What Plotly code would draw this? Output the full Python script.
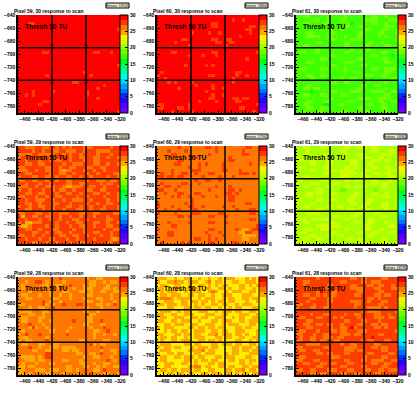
import plotly.graph_objects as go

# ROOT-style discrete palette, 20 levels from 0 to 30 (bottom to top)
palette = ["#7000ff","#5000ff","#3000ff","#0030ff","#0070ff","#00a0ff","#00d0ff","#00ffe0","#00ffa0","#00ff60",
           "#00ff20","#40ff00","#70ff00","#a8ff00","#d0ff00","#ffee00","#ffaa00","#ff7700","#ff3c00","#ff0000"]
z_min, z_max = 0, 30
x_edges = list(range(-470, -319, 5))
y_edges = list(range(-640, -791, -5))
x_ticks = [-460,-440,-420,-400,-380,-360,-340,-320]
y_ticks = [-640,-660,-680,-700,-720,-740,-760,-780]
bar_ticks = [0,5,10,15,20,25,30]
module_x = [-420,-370]
module_y = [-690,-740]
threshold_label = "Thresh 50 TU"

titles = ["Pixel 59, 30 response to scan","Pixel 60, 30 response to scan","Pixel 61, 30 response to scan",
          "Pixel 59, 29 response to scan","Pixel 60, 29 response to scan","Pixel 61, 29 response to scan",
          "Pixel 59, 28 response to scan","Pixel 60, 28 response to scan","Pixel 61, 28 response to scan"]
entries = ["19105","18800","17903","18265","17941","16961","17072","15743","18795"]

# value of each cell code per panel: '.' = dominant, 'o' = second, 'x' = rare
values_59_30 = {'.':29.2,'o':27.8,'x':26.2}
values_60_30 = {'.':29.2,'o':27.8,'x':26.2}
values_61_30 = {'.':17.2,'o':18.8,'x':15.8}
values_59_29 = {'.':26.2,'o':27.8,'x':24.8}
values_60_29 = {'.':26.2,'o':27.8,'x':24.8}
values_61_29 = {'.':20.2,'o':21.8,'x':18.8}
values_59_28 = {'.':26.2,'o':24.8,'x':27.8}
values_60_28 = {'.':24.8,'o':23.2,'x':26.2}
values_61_28 = {'.':27.8,'o':26.2,'x':29.2}

grid_59_30 = [
"..............................",
"..............................",
"...oo.........................",
"..............................",
".............................o",
"..............................",
"..............................",
"..............................",
"..............................",
"..............................",
"..............................",
".......oo.............oo...o...",
"..............................",
"..............................",
"..............................",
".............................o",
"..............................",
"...................o..........",
"........o............o........",
"..............................",
"................oo............",
".........................o....",
".......................o......",
"....o.....o.........o.........",
"..o.o...............o.........",
".......................o......",
".......oo.....................",
"......o.......................",
"..............................",
".............................o",
]
grid_60_30 = [
"..............................",
"......................o..o....",
"................oo............",
"................oo.........oo.",
"..........................oo..",
"..........o....o..o........o..",
"........................o.....",
".......oo.......oo..oo........",
".....o...........oo..oo.......",
".........o..........o.........",
"..............................",
"....oo..........oo...........o",
".........o...o...o............",
"..........................o...",
"..............................",
"........o.....o.o.............",
"..............................",
".o.....................oo.....",
"o..............oo......o..o...",
"..o...................o.......",
"...o.o....o...........o.......",
"...........o....o.............",
"......o.........o..o..........",
"..............o...............",
"................o..o..........",
"...............oo.....oo.oo...",
"............o....o.....oo.....",
"oo.......o...................o",
"oo....oo.o..............oo....",
"....o.....o.................o.",
]
grid_61_30 = [
"..oo.....o....o.......oo..o...",
".....oo..o...oo.....oooo...ooo",
"..oo....oo.....ox.....oo..o...",
"....oo........oo..oo......ooo.",
"..........o..o......oo...oo..o",
"...oo.....oo......oo....oo...o",
"...oooo..oo...o...oo....o.o...",
"..........oo....ooo..........o",
"......oo......oo.....oo..o....",
"..oo..........oo....oo....oo..",
"......o...o.....o...oo.......o",
".oo..oo.......oo..o......oo...",
"..........oo..........oo....x.",
".......oo.........oo.....oo...",
"...oo.........ooo.........oo..",
"..........oo.......oo.........",
".oo....oo.....o.......oo..ooo.",
"..............o..oo.......oo..",
"...oo..oo...........ooo..oo...",
"....oo.......o..oo....x.....oo",
"..........oo..oo..........o...",
"...oo..............oo..oo.....",
"..oo.oo...........oo......o...",
"....x.....oo....ooo...oooo..oo",
"..oo...oo....oo...........oo..",
"..........o.......oooo..oooo..",
"...oo...oo.....oo.......oo..oo",
"..oo....xx..oo.......oo..oo...",
"...oo..oo.........oo.....oo...",
"..o...oo.....oo.....oo....o...",
]
grid_59_29 = [
"oo...oo..oo.o.o.ooo...ooooo.oo",
"oooo.oo.oo..oo...oo.ooo....ooo",
"....oo.....oo.o.oo.oooo.ooo.oo",
".oooo.ooo..oooo.oo..oo..oo.oo.",
"oo.ooo.oo.o..oo.ooo.oo..oooooo",
"oo..oo..ooooo.oo...ooo..oo.oo.",
"..oooooo..oo.oo..ooo..oo..oooo",
"...oo.oo..oo.x..ooo.oo.oo.oooo",
"oo..ooooo.oo..oo.ooo.oo.oooo..",
".ooo..oo..o.oo..oo.oo.oooo.oo.",
"..oo..oo.oo.oo..oooo.oo...o..o",
"oo.ooo.oo.oooo..oo..oooo.o..oo",
"...oo.oo...oo.xx...oo..oo.ooo.",
".oo.ooo.oo.o..oo.ooo..oo..oooo",
"oo..oo..ooo.oo..oo.ooo..oo.oo.",
"..ooo.oo.oo..oooo.oo.oooo.ooo.",
"oo.oo...oo.oo.oo...oo.oooo.oo.",
"oo..oo.ooo..ooo.oooo.oo.oo..oo",
".oo.oo..oo.ooo..oo.oo.ooo.ooo.",
"oo..ooo.oo.oo.ooo..oo.oo..ooo.",
"..ooo..oo.oo...ooo..oo..oooo..",
"oxoo..oo..oo.oo.oo.ooo.ooo.ooo",
"oo.ooo.oo.oo.ooo..oo.ooooo..oo",
".oxx...oooo.oo.oo..ooo..oo.oo.",
".xx.oooo.oo.ooo.oo..oo.ooo..oo",
"oo..oo.ooo..oooo.oo.ooooo.oo..",
"oooo..oo.oo..oo.ooo.oo..ooo.oo",
"..oo.oo.oooo..oo..oo.ooo.oo.oo",
"oo.ooo.oo..ooo.oo.oooo.oooo.x.",
"oooo..oo.oo.ooo.oo..oooooo..oo",
]
grid_60_29 = [
"......o.......oo.o........oo..",
"...o....o........o.......o....",
"....oo.........o.........oo...",
"...........o.........o........",
"......oo.............oo.......",
".....oo.....o.o....o.......o..",
".........o..o......o..........",
"....o.....ooo......oo...o.....",
".o..o..oo..o...oo.......ooo.o.",
"oo.oo.oo.....o....o...o.......",
"...........o..oo..o...........",
".o.....oo...o.................",
"..oo..o..........o...o........",
"oo...o.........o.....oo.o.....",
"..o...oo...oo.......oo.o......",
"....o.o..o...o...o...oo.......",
"..........o..........oo.......",
"o.......o.o...............oo..",
"o...o....oo..o.....o..o.......",
"..o...o...oo...........o...oo.",
"o....o....ooo.....oo.......oo.",
"......oo.o.....oo...o.........",
"...........................oo.",
"...o.....o.....oo...o.........",
"....oo.......................o",
"o..............oo......o.xx.oo",
"...oo.........o...o.....xxoo..",
"...oo..........o...o.....xxxx.",
"...........oo..o.o.......xx...",
".o.....o.o.....oo.....oo......",
]
grid_61_29 = [
"..oo...oo.....oo..ooo.oo......",
"...o.........oo.......oo...oo.",
"..oo....oo....oo..oo.....ooo..",
"......oo....oo.....ooo..oo....",
".oo.oo...oo.....oo....ooo.oo..",
"....oo...oo.....oo...oo......o",
".oo.....oo....oo.o....oo..oo..",
"....oo...ooo.oooo...oo.....oo.",
"........oo...ooooo.oo..oo.oo..",
"..oo.........ooo...ooo.....oo.",
".o.....oo.....oo.oo...oo...o..",
"o...ooo....oo.........oo.oo...",
"..oo.....oo...oo.oo.o....oo...",
"......oo.....xx........x......",
"...oo.oo..oo.....oo...oo..o...",
"...oo...........oo.......ooo..",
".o....oo..oo...oo....oo.......",
"o...oo..........oo..oo...oo...",
"..oo.....oo.oo.....oo....oo...",
"......oo.......oo...oo....o...",
"...oooo..........ooo...oo.....",
"...........oo...oo.......oo...",
".oo..ooooo....oo.....oo.......",
"..oo......oo.....oo..oo...oo..",
"......ooooooo.......oo.....oo.",
"..ooo..ooo....oo....oo..oo....",
".oo.......oo......oo..oo...oo.",
"....oo...oo.oo.......oo.......",
"..oo..oo.......oo.oo.....oo...",
".oo.......oo.......oo....oo...",
]
grid_59_28 = [
"............x.......o..oo.....",
"..o..xx.o....o.......oo..o.oo.",
".o.....oo..oo..x...o.oo...o...",
".o.....o...ox...o..ooo...oo.o.",
"...o.....o...oo...oo.o..oo..oo",
".oo...o..o..o..o....oo.....o..",
"..oo......oo...o...o...oo..o..",
".......x.o..o.......oo..o...o.",
"oo.....xo.o..x...xx....oo.o.x.",
"...o..oo..x.........o...o.....",
"oooo...oo..........oo..o......",
"...oo..o............xoo.......",
".oo...oo............oo........",
".oo...o..o......x...oo..x.....",
"...x...o...........oo...oo....",
"...oxo..o......o.....o...x....",
".o.......oo...o.......oo..x...",
"o.x...x.......x.......o..o..o.",
".oo.....o.............o.......",
"o.oo....x.........oo.....oo...",
".oo...oo..oo.........xo.oo....",
"...x..o..ooo.oooo.......x.....",
"....oo..oo...oo.oo......o..oo.",
"........xx.......oo..oo.x...o.",
".oooo.o.xx.........o..oo...o..",
"..ooo.oo.....oo...o.......x.o.",
".o...o...oo.......oo..o..oo...",
"oo.oo.........oo...oo..o.o..oo",
"oo...ooo.ooo..oo.o....oo.x....",
"oo.o....oo...o.......x...oo..o",
]
grid_60_28 = [
"...oo.oo..oo.oo.oo.o...ooo.o.o",
".oo..x..o...oo.xo..ooo..oo...o",
"o..oo..oo.oo..o.o.o..ooo..o.o.",
"..ooo..oo...oo..oo..o.oo..oo.o",
"o.o...oo.o...oo.x.oo.o...oo..o",
"o..o...oo..o..oo.oo...ooo...oo",
".xxx.o....oo.o...oo.o..oo..o..",
"oo...oo..o..o..o.o..o..ooo.oo.",
"..o...o..oo.o.oo..o..oo.o...oo",
"ooo..ooo..o..o..oo.oo.o..ooo..",
"o...oo.o..oo...oo.o...o..oo..o",
"..oo..oo...ooo...oo..ooo...oo.",
"o..oo...oo..o..oo...oo.o..oo..",
"..oo..o...oo.ooo..o...oo..o...",
"oo..o...oo..oo...oo.o...ooo..o",
".o...oooo..o..o..o..ooo..o..oo",
"oo.o..o..oo...oo..o..oo...ooo.",
"..ooo..o..o..oo..xo...o..o.oo.",
"o..o..oo.oo...ooo..o..oo..oo..",
"o.oo..o...oo..o..o.oooo..oo.o.",
"o...oooo..o..ooo..o...o..oo..o",
".o..o..ooo.o...o..oooo..o...o.",
"o...ooooo....xo..ooooo..o..o..",
".oo..o..ooo..o...ooo.o..ooo...",
"o..oo..o...o..ooo..o...ooo..oo",
"o..ooooo..o.o..o..ooo..o..o..o",
"oo...oo..oo.ooo..o..oooo..o.oo",
"oo..ooooo..xxo..oo..o..oo..o..",
"o..o..o...o..oo..ooo..o..xo..o",
"ooo..o..o..oo..o...o..o.o..o..",
]
grid_61_28 = [
"......o.........oo.oo....oo...",
"..oo.........oo....oo.ooo.....",
"..o......oo.....oo...oo.oo..o.",
"...oo...oo......oooo...oo...oo",
"......ox..oo......oo....oo....",
"..oo..o.o.oo.....oo....oo.oo..",
"....oo...oo..........oo.o.....",
"...o.....oo.....ooo..o...oo...",
"oo...o...o.......oo.....oo....",
"o...oo..oo.......o...oooo.o...",
"...................o.oooo....o",
"....o...oo....o..oo....oo..o..",
".oo...oo...o.o....o....ooo.oo.",
"...oo.........oo...oo...o.....",
"..oo..oo.oo..o....oo..oo.oo...",
"...oo.....o..oo.xo.....oo.o...",
".oo...o...oo.oo...ooo........o",
"oo...o..oo...ooo.oo.....oo....",
".o..oo..ooo.oo........x.......",
"oo..oo.oo..oo......o.oo...oo..",
"...oooo......o..oo.....oo.....",
"oo......oo....oooo....oo.oo...",
".oo..oo.......ooo.oo.....oo...",
"......oo.oo...oo.....oo....oo.",
".oo.......ooo.......o....oo...",
"oo...oo.......oo...oo.oooo..oo",
"..oo...oo.oo...oo.....oo..oo..",
"......oo.....oo....oo....oo...",
"oo..oo...ooo...oo...oo..oo.ooo",
"....oo.oo....oo..oo....oo.....",
]

panel_values = [values_59_30,values_60_30,values_61_30,values_59_29,values_60_29,values_61_29,values_59_28,values_60_28,values_61_28]
panel_grids = [grid_59_30,grid_60_30,grid_61_30,grid_59_29,grid_60_29,grid_61_29,grid_59_28,grid_60_28,grid_61_28]

W, H = 418, 393
lefts = [18, 157, 296]
tops = [15, 146, 277]
pw, ph, bw = 102, 98, 8

scale = []
n = len(palette)
for i, c in enumerate(palette):
    scale += [[i / n, c], [(i + 1) / n, c]]

fig = go.Figure()
ann = []
shapes = []
font = "Liberation Sans"
for k in range(9):
    r, c = divmod(k, 3)
    l, t = lefts[c], tops[r]
    sfx = "" if k == 0 else str(k + 1)
    vals = panel_values[k]
    z = [[vals.get(ch, vals['.']) for ch in row.ljust(30, '.')[:30]] for row in panel_grids[k]]
    fig.add_trace(go.Heatmap(
        x=x_edges, y=y_edges, z=z, xaxis="x"+sfx, yaxis="y"+sfx,
        zmin=z_min, zmax=z_max, colorscale=scale, hoverinfo="skip",
        colorbar=dict(
            x=(l+pw)/W, xanchor="left", xpad=0, ypad=0, thickness=bw, thicknessmode="pixels",
            y=1-(t+ph)/H, yanchor="bottom", len=ph/H, lenmode="fraction",
            tickmode="array", tickvals=bar_ticks, ticktext=[str(v) for v in bar_ticks],
            ticks="inside", ticklen=3, tickwidth=1, tickcolor="#000",
            outlinecolor="#000", outlinewidth=1, borderwidth=0,
            tickfont=dict(family=font, size=5, color="#000", weight="bold"),
        ),
    ))
    ax = dict(showgrid=False, zeroline=False, showline=True, linecolor="#000", linewidth=1.5, mirror=False,
              ticks="inside", ticklen=3, tickwidth=1, tickcolor="#000", tickangle=0,
              tickfont=dict(family=font, size=5, color="#000", weight="bold"))
    minor = dict(ticks="inside", ticklen=1.5, dtick=5, tickcolor="#000", tickwidth=1)
    fig.layout["xaxis"+sfx] = dict(ax, domain=[l/W, (l+pw)/W], range=[-470,-320], anchor="y"+sfx,
                                   tickmode="array", tickvals=x_ticks, minor=minor)
    fig.layout["yaxis"+sfx] = dict(ax, domain=[1-(t+ph)/H, 1-t/H], range=[-790,-640], anchor="x"+sfx,
                                   tickmode="array", tickvals=y_ticks, minor=minor)
    xr, yr = "x"+sfx, "y"+sfx
    for v in module_x:
        shapes.append(dict(type="line", xref=xr, yref=yr, x0=v, x1=v, y0=-790, y1=-640, line=dict(color="#000", width=1.5)))
    for v in module_y:
        shapes.append(dict(type="line", xref=xr, yref=yr, x0=-470, x1=-320, y0=v, y1=v, line=dict(color="#000", width=1.5)))
    ann.append(dict(xref="paper", yref="paper", x=(l-6)/W, y=1-(t-4)/H, xanchor="left", yanchor="middle",
                    text=titles[k], showarrow=False, font=dict(family=font, size=5, color="#000", weight="bold")))
    ann.append(dict(xref=xr, yref=yr, x=-463, y=-657, xanchor="left", yanchor="middle",
                    text=threshold_label, showarrow=False, font=dict(family=font, size=6.7, color="#000", weight="bold")))
    bx0, bx1, by0, by1 = l+88, l+111, t-12, t-7
    shapes.append(dict(type="rect", xref="paper", yref="paper", x0=bx0/W, x1=bx1/W, y0=1-by1/H, y1=1-by0/H,
                       fillcolor="#efe9d6", line=dict(color="#000", width=1)))
    ann.append(dict(xref="paper", yref="paper", x=(bx0+bx1)/2/W, y=1-(by0+by1)/2/H, xanchor="center", yanchor="middle",
                    text="Entries  "+entries[k], showarrow=False, font=dict(family=font, size=3.5, color="#000")))

fig.update_layout(width=W, height=H, margin=dict(l=0, r=0, t=0, b=0, autoexpand=False), paper_bgcolor="#fff", plot_bgcolor="#fff",
                  annotations=ann, shapes=shapes, showlegend=False)
fig.write_html("out.html", post_script="document.body.style.margin='0';", config={"displayModeBar": False})
